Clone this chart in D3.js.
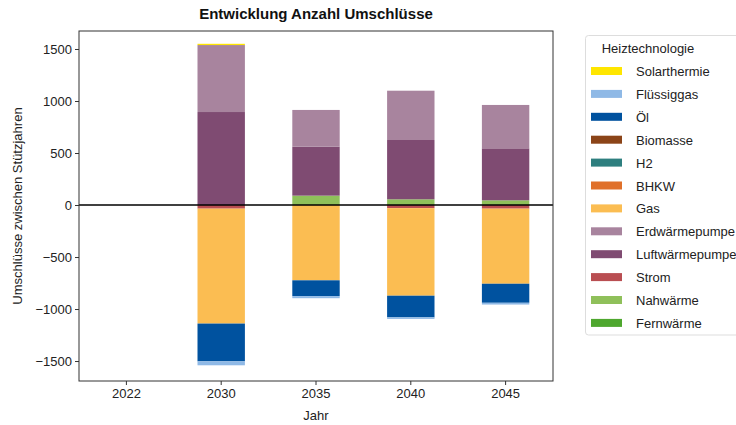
<!DOCTYPE html>
<html>
<head>
<meta charset="utf-8">
<script src="https://cdn.jsdelivr.net/npm/d3@7/dist/d3.min.js"></script>
<style>
  body { margin: 0; background: #fff; }
  svg { display: block; font-family: "Liberation Sans", Arial, sans-serif; }
</style>
</head>
<body>
<svg id="chart" width="736" height="425"></svg>
<script>
// Years (categories on the x axis)
const years = ["2022", "2030", "2035", "2040", "2045"];

// Heating technologies, in stacking order (first = closest to zero)
const technologies = ["Fernwärme", "Nahwärme", "Strom", "Luftwärmepumpe", "Erdwärmepumpe",
  "Gas", "BHKW", "H2", "Biomasse", "Öl", "Flüssiggas", "Solarthermie"];

const colors = ["#4ea72e", "#8fc05a", "#b94e52", "#7f4b72", "#a8849e",
  "#fbbd52", "#e0702a", "#2e7f7f", "#8b4418", "#00529f", "#8fb9e6", "#ffe600"];

// Conversions between reference years per technology (one value per year)
const fernwaerme     = [0, 0, 0, 0, 0];
const nahwaerme      = [0, 0, 90, 55, 45];
const strom          = [0, -35, 0, -30, -35];
const luftwp         = [0, 894, 471, 570, 500];
const erdwp          = [0, 644, 353, 474, 417];
const gas            = [0, -1105, -724, -842, -722];
const bhkw           = [0, 0, 0, 0, 0];
const h2             = [0, 0, 0, 0, 0];
const biomasse       = [0, 0, 0, 0, 0];
const oel            = [0, -363, -152, -208, -183];
const fluessiggas    = [0, -38, -20, -15, -17];
const solarthermie   = [0, 12, 0, 0, 0];

const series = [fernwaerme, nahwaerme, strom, luftwp, erdwp, gas, bhkw, h2,
  biomasse, oel, fluessiggas, solarthermie];

const yTicks = [-1500, -1000, -500, 0, 500, 1000, 1500];

const svg = d3.select("#chart");
const margin = { left: 79, right: 553, top: 31, bottom: 381 };

const x = d3.scaleBand().domain(years).range([margin.left, margin.right]).paddingInner(0.5).paddingOuter(0.25);
const y = d3.scaleLinear().domain([-1692, 1673]).range([margin.bottom, margin.top]);

// Stack positives upward and negatives downward separately
const rects = [];
years.forEach((yr, i) => {
  let pos = 0, neg = 0;
  technologies.forEach((t, k) => {
    const v = series[k][i];
    if (v === 0) return;
    let y0, y1;
    if (v > 0) { y0 = pos; y1 = pos + v; pos = y1; }
    else { y0 = neg; y1 = neg + v; neg = y1; }
    rects.push({ year: yr, tech: t, color: colors[k], y0, y1 });
  });
});

svg.append("g").selectAll("rect").data(rects).join("rect")
  .attr("x", d => x(d.year))
  .attr("width", x.bandwidth())
  .attr("y", d => y(Math.max(d.y0, d.y1)))
  .attr("height", d => Math.abs(y(d.y0) - y(d.y1)))
  .attr("fill", d => d.color);

// Zero line
svg.append("line")
  .attr("x1", margin.left).attr("x2", margin.right)
  .attr("y1", y(0)).attr("y2", y(0))
  .attr("stroke", "#000").attr("stroke-width", 1.3);

// Axes
const yAxis = d3.axisLeft(y).tickValues(yTicks).tickSize(4).tickPadding(3)
  .tickFormat(d => d < 0 ? "\u2212" + Math.abs(d) : d);
const xAxis = d3.axisBottom(x).tickSize(4).tickPadding(4);

const gy = svg.append("g").attr("transform", `translate(${margin.left},0)`).call(yAxis);
const gx = svg.append("g").attr("transform", `translate(0,${margin.bottom})`).call(xAxis);
[gx, gy].forEach(g => {
  g.select(".domain").remove();
  g.selectAll("text").attr("font-size", 13).attr("fill", "#222")
    .attr("font-family", "Liberation Sans, Arial, sans-serif");
  g.selectAll("line").attr("stroke", "#333");
});

// Frame
svg.append("rect")
  .attr("x", margin.left).attr("y", margin.top)
  .attr("width", margin.right - margin.left).attr("height", margin.bottom - margin.top)
  .attr("fill", "none").attr("stroke", "#333").attr("stroke-width", 1);

// Title and axis labels
svg.append("text").attr("x", (margin.left + margin.right) / 2).attr("y", 19)
  .attr("text-anchor", "middle").attr("font-size", 15).attr("font-weight", "bold")
  .attr("fill", "#111").text("Entwicklung Anzahl Umschlüsse");
svg.append("text").attr("x", (margin.left + margin.right) / 2).attr("y", 420)
  .attr("text-anchor", "middle").attr("font-size", 13).attr("fill", "#222").text("Jahr");
svg.append("text")
  .attr("transform", `translate(22,${(margin.top + margin.bottom) / 2}) rotate(-90)`)
  .attr("text-anchor", "middle").attr("font-size", 13).attr("fill", "#222")
  .text("Umschlüsse zwischen Stützjahren");

// Legend (top entry = last stacked series)
const legend = svg.append("g");
legend.append("rect").attr("x", 585.5).attr("y", 35.5).attr("width", 160).attr("height", 299.5)
  .attr("rx", 3).attr("fill", "#fff").attr("stroke", "#ddd");
legend.append("text").attr("x", 648).attr("y", 53).attr("text-anchor", "middle")
  .attr("font-size", 13).attr("fill", "#222").text("Heiztechnologie");
const legendItems = technologies.map((t, k) => ({ t, c: colors[k] })).reverse();
const li = legend.selectAll("g.item").data(legendItems).join("g")
  .attr("transform", (d, i) => `translate(0,${71 + i * 22.9})`);
li.append("rect").attr("x", 591).attr("y", -4).attr("width", 31).attr("height", 8).attr("fill", d => d.c);
li.append("text").attr("x", 636).attr("y", 5).attr("font-size", 13).attr("fill", "#222").text(d => d.t);
</script>
</body>
</html>
